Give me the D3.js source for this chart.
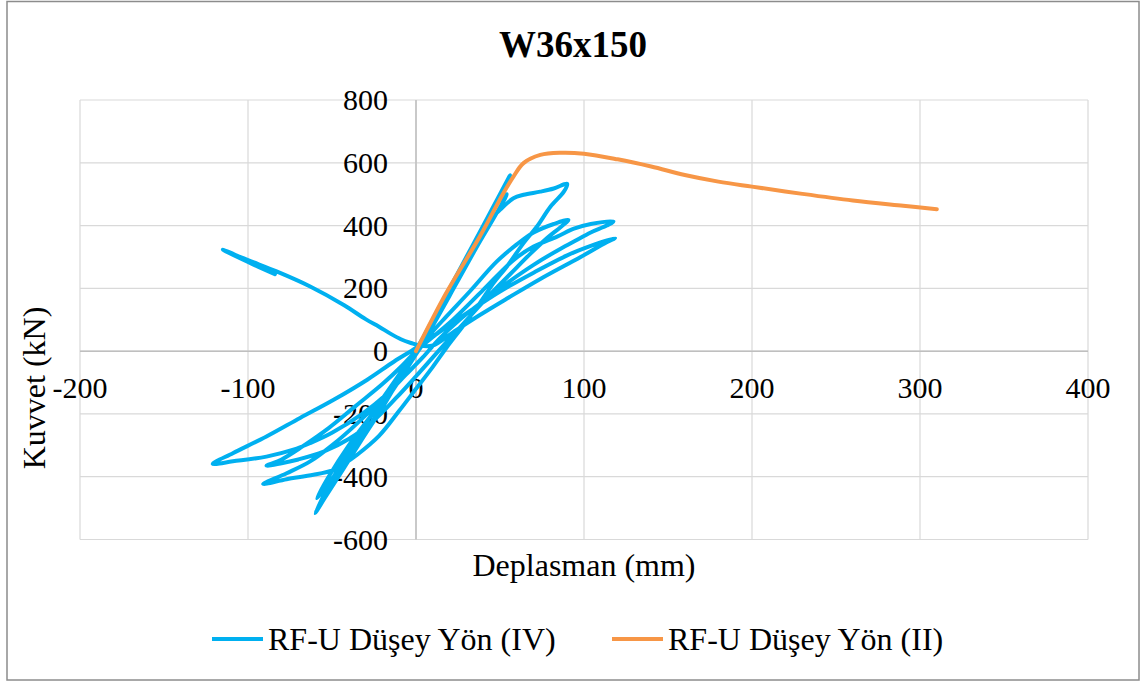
<!DOCTYPE html>
<html>
<head>
<meta charset="utf-8">
<script src="https://cdn.jsdelivr.net/npm/d3@7"></script>
<style>
  html, body { margin: 0; padding: 0; background: #ffffff; }
  svg { display: block; }
  text { font-family: "Liberation Serif", "Times New Roman", serif; fill: #000; }
</style>
</head>
<body>
<svg id="chart" width="1147" height="684"></svg>
<script>
// ---------------- data ----------------
const chartTitle = "W36x150";
const xAxisTitle = "Deplasman (mm)";
const yAxisTitle = "Kuvvet (kN)";
const xTicks = [-200, -100, 0, 100, 200, 300, 400];
const yTicks = [-600, -400, -200, 0, 200, 400, 600, 800];
const seriesNames = ["RF-U Düşey Yön (IV)", "RF-U Düşey Yön (II)"];

// cyclic test (IV): [displacement mm, force kN]
const cyclicIV = [
  [0,0],[10,100],[20,200],[30,300],[40,400],[48,480],[56,560],
  [46,450],[34,330],[22,210],[10,90],[0,-5],
  [-10,-90],[-20,-180],[-32,-280],[-45,-390],[-54,-465],[-60,-516],
  [-50,-410],[-38,-300],[-25,-190],[-12,-90],[0,5],
  [12,115],[25,240],[38,370],[48,470],[54,500],
  [48,440],[36,330],[24,215],[12,100],[0,-10],
  [-12,-110],[-25,-215],[-40,-335],[-52,-420],[-59,-468],
  [-52,-400],[-40,-300],[-26,-200],[-12,-100],[0,-10],
  [12,100],[25,230],[36,350],[44,418],[50,450],[58,487],[64,498],[74,508],[82,518],[90,533],
  [88,508],[80,460],[72,397],[64,344],[54,269],[46,216],[38,153],[28,80],[18,10],[10,-50],[0,-120],
  [-10,-190],[-22,-270],[-35,-330],[-43,-360],[-49,-378],[-61,-394],[-77,-408],[-91,-423],
  [-77,-389],[-63,-351],[-50,-300],[-35,-230],[-20,-150],[-8,-70],[0,-10],
  [8,50],[18,110],[32,190],[48,285],[60,340],[70,378],[82,405],[90.7,418],
  [86,395],[78,360],[68,310],[56,245],[44,180],[32,110],[20,40],[10,-20],
  [0,-80],[-12,-150],[-25,-220],[-40,-280],[-55,-320],[-70,-345],[-80,-357],[-89,-365],
  [-80,-345],[-68,-305],[-52,-245],[-36,-175],[-20,-105],[-8,-45],[0,0],
  [10,45],[22,100],[40,195],[58,290],[70,333],[84,365],[94,390],[104,405],[117.5,413],
  [113.5,400],[104,378],[94,349],[84,320],[70,275],[55,220],[40,160],[26,100],[14,40],[4,-20],
  [-6,-75],[-18,-140],[-32,-200],[-50,-260],[-63,-293],[-73,-314],[-89,-336],[-109,-351],[-121,-359],
  [-109,-325],[-89,-272],[-69,-213],[-49,-155],[-29,-91],[-13,-33],[0,10],
  [15,65],[30,120],[50,190],[70,250],[90,305],[104,335],[118.5,360],
  [113.5,347],[98,300],[74,230],[55,170],[38,115],[22,60],[10,18],[2,18],
  [-3,26],[-9,38],[-15,55],[-22,78],[-30,102],[-43,147],[-63,206],[-83,254],[-100,290],[-115,323],
  [-100,284],[-84,245]
];

// monotonic test (II)
const monotonicII = [
  [0,0],[18,185],[38,365],[52,503],[58,556],[64,599],[74,625],[86,632],[100,629],
  [120,611],[140,588],[160,561],[180,540],[200,524],[230,501],[260,480],[290,463],[310,452]
];

const seriesColors = ["#00B0F0", "#F79646"];

// ---------------- drawing ----------------
const svg = d3.select("#chart");
const W = 1147, H = 684;

svg.append("rect").attr("x", 0).attr("y", 0).attr("width", W).attr("height", H).attr("fill", "#fff");
svg.append("rect")
  .attr("x", 7).attr("y", 1.5).attr("width", 1132).attr("height", 678.5)
  .attr("fill", "none").attr("stroke", "#8c8c8c").attr("stroke-width", 1.5);

const x = d3.scaleLinear().domain([-200, 400]).range([80, 1088]);
const y = d3.scaleLinear().domain([-600, 800]).range([539.5, 100]);

// gridlines
const grid = svg.append("g");
grid.selectAll("line.gx").data(xTicks).join("line")
  .attr("x1", d => x(d)).attr("x2", d => x(d))
  .attr("y1", y(800)).attr("y2", y(-600))
  .attr("stroke", "#d9d9d9").attr("stroke-width", 1.2);
grid.selectAll("line.gy").data(yTicks).join("line")
  .attr("x1", x(-200)).attr("x2", x(400))
  .attr("y1", d => y(d)).attr("y2", d => y(d))
  .attr("stroke", "#d9d9d9").attr("stroke-width", 1.2);

// axes crossing at zero
svg.append("line").attr("x1", x(0)).attr("x2", x(0)).attr("y1", y(800)).attr("y2", y(-600))
  .attr("stroke", "#bfbfbf").attr("stroke-width", 1.5);
svg.append("line").attr("x1", x(-200)).attr("x2", x(400)).attr("y1", y(0)).attr("y2", y(0))
  .attr("stroke", "#bfbfbf").attr("stroke-width", 1.5);

// tick labels
svg.append("g").selectAll("text").data(xTicks).join("text")
  .attr("x", d => x(d)).attr("y", y(0) + 47)
  .attr("text-anchor", "middle").attr("font-size", 30)
  .text(d => d);
svg.append("g").selectAll("text").data(yTicks).join("text")
  .attr("x", x(0) - 28).attr("y", d => y(d) + 10)
  .attr("text-anchor", "end").attr("font-size", 30)
  .text(d => d);

// series
const line = d3.line().x(d => x(d[0])).y(d => y(d[1])).curve(d3.curveCatmullRom.alpha(0.5));
svg.append("path").datum(cyclicIV).attr("d", line)
  .attr("fill", "none").attr("stroke", seriesColors[0]).attr("stroke-width", 4)
  .attr("stroke-linejoin", "round").attr("stroke-linecap", "round");
svg.append("path").datum(monotonicII).attr("d", line)
  .attr("fill", "none").attr("stroke", seriesColors[1]).attr("stroke-width", 4)
  .attr("stroke-linejoin", "round").attr("stroke-linecap", "round");

// titles
svg.append("text").attr("x", 573).attr("y", 57).attr("text-anchor", "middle")
  .attr("font-size", 37).attr("font-weight", "bold").text(chartTitle);
svg.append("text").attr("x", 584).attr("y", 576).attr("text-anchor", "middle")
  .attr("font-size", 32).text(xAxisTitle);
svg.append("text").attr("transform", "translate(45,388) rotate(-90)").attr("text-anchor", "middle")
  .attr("font-size", 32).text(yAxisTitle);

// legend
const legendX = [212, 612];
const lg = svg.append("g").selectAll("g").data(seriesNames).join("g")
  .attr("transform", (d, i) => `translate(${legendX[i]},639)`);
lg.append("line").attr("x1", 0).attr("x2", 51).attr("y1", 0).attr("y2", 0)
  .attr("stroke", (d, i) => seriesColors[i]).attr("stroke-width", 4);
lg.append("text").attr("x", 56).attr("y", 11).attr("font-size", 32).text(d => d);
</script>
</body>
</html>
